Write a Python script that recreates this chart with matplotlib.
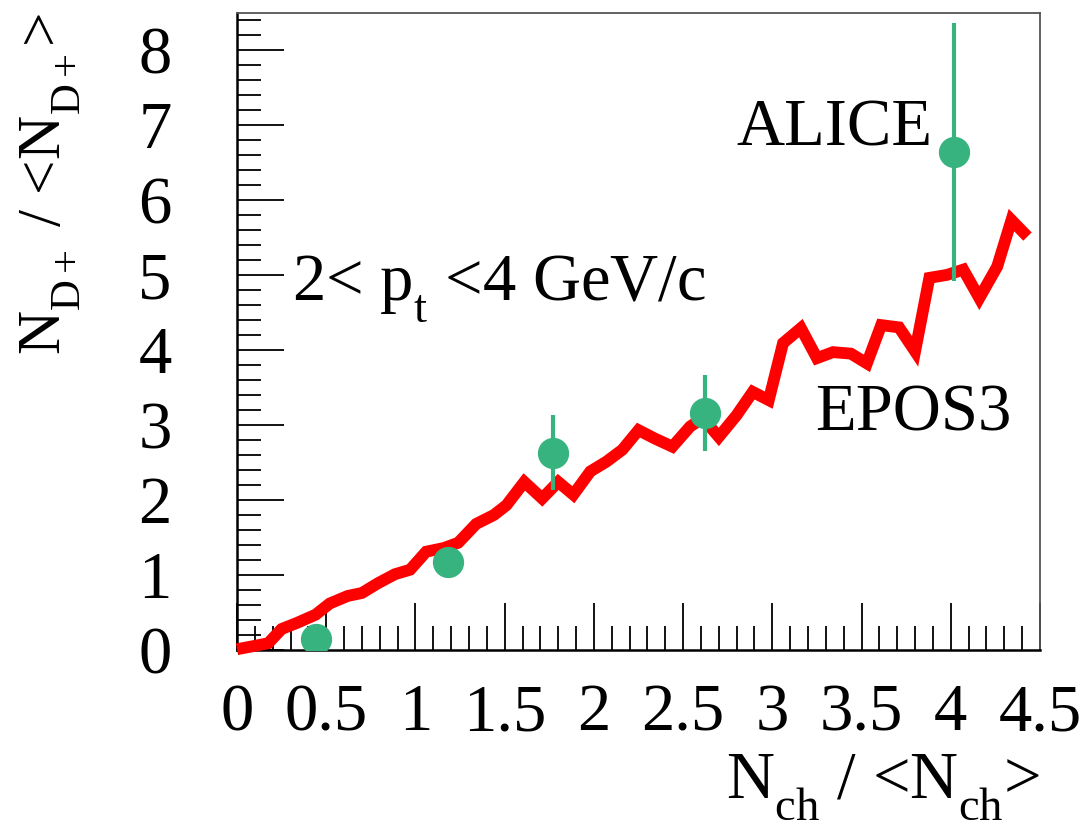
import numpy as np
import matplotlib
matplotlib.use("Agg")
import matplotlib.pyplot as plt
import matplotlib._mathtext as mathtext_impl
from matplotlib.ticker import MultipleLocator

plt.rcParams['font.family'] = ['Liberation Serif', 'DejaVu Serif']
plt.rcParams['mathtext.fontset'] = 'custom'
plt.rcParams['mathtext.rm'] = 'Liberation Serif'
plt.rcParams['mathtext.it'] = 'Liberation Serif:italic'
# drop subscripts lower, ROOT-like
mathtext_impl.FontConstantsBase.sub1 = 0.72

# EPOS3 curve
epos_x = [0.0, 0.175, 0.25, 0.335, 0.44, 0.52, 0.62, 0.70, 0.79, 0.885, 0.97,
          1.06, 1.16, 1.24, 1.34, 1.44, 1.51, 1.61, 1.71, 1.80, 1.885, 1.98,
          2.07, 2.16, 2.25, 2.34, 2.44, 2.54, 2.61, 2.70, 2.80, 2.89, 2.98,
          3.06, 3.16, 3.25, 3.34, 3.44, 3.53, 3.61, 3.71, 3.80, 3.88, 3.98,
          4.07, 4.16, 4.26, 4.34, 4.43]
epos_y = [0.01, 0.09, 0.28, 0.36, 0.47, 0.62, 0.72, 0.76, 0.89, 1.01, 1.07,
          1.31, 1.36, 1.43, 1.68, 1.80, 1.93, 2.24, 2.02, 2.24, 2.07, 2.38,
          2.51, 2.67, 2.93, 2.82, 2.71, 2.98, 3.09, 2.84, 3.13, 3.44, 3.33,
          4.09, 4.29, 3.89, 3.97, 3.95, 3.82, 4.33, 4.30, 3.98, 4.96, 5.00,
          5.07, 4.69, 5.11, 5.73, 5.51]

# ALICE points
alice_x = [0.44, 1.18, 1.77, 2.62, 4.02]
alice_y = [0.15, 1.17, 2.63, 3.16, 6.64]
alice_err = [0.1, 0.1, 0.5, 0.51, 1.72]

W, H = 1084, 821
fig = plt.figure(figsize=(W / 100, H / 100), dpi=100)
ax = fig.add_axes([237 / W, 1 - 650 / H, (1040 - 237) / W, (650 - 13) / H])

ax.plot(epos_x, epos_y, color='#ff0000', lw=8.5, solid_joinstyle='miter',
        solid_capstyle='butt', clip_on=False, zorder=3)
ax.errorbar(alice_x, alice_y, yerr=alice_err, fmt='o', color='#36b37f',
            ms=21.5, elinewidth=3, capsize=0, zorder=4)

ax.set_xlim(0, 4.5)
ax.set_ylim(0, 8.49)
ax.xaxis.set_major_locator(MultipleLocator(0.5))
ax.xaxis.set_minor_locator(MultipleLocator(0.1))
ax.yaxis.set_major_locator(MultipleLocator(1))
ax.yaxis.set_minor_locator(MultipleLocator(0.2))
ax.xaxis.set_major_formatter(plt.FuncFormatter(lambda v, p: f"{v:g}"))

ax.tick_params(which='both', direction='in', top=False, right=False,
               width=1.3, labelsize=48)
ax.tick_params(which='major', length=34)
ax.tick_params(which='minor', length=17)
ax.tick_params(axis='x', which='major', pad=24)
ax.tick_params(axis='y', which='major', pad=47)
for side in ['left', 'bottom']:
    ax.spines[side].set_linewidth(1.8)
for side in ['top', 'right']:
    ax.spines[side].set_linewidth(1.3)
    ax.spines[side].set_color('#555555')

ax.set_xlabel(r"N$_{\rm ch}$ / <N$_{\rm ch}$>", fontsize=48, loc='right')
ax.xaxis.set_label_coords(1.0, -0.161)
ax.set_ylabel(r"N$_{\rm D+}$ / <N$_{\rm D+}$>", fontsize=44, loc='top')
ax.yaxis.set_label_coords(-0.192, 1.0)

ax.text(2.80, 6.73, "ALICE", fontsize=48, va='baseline', ha='left')
ax.text(3.24, 2.93, "EPOS3", fontsize=48, va='baseline', ha='left')
ax.text(0.31, 4.67, r"2< p$_{\rm t}$ <4 GeV/c", fontsize=48,
        va='baseline', ha='left')

fig.savefig("out.png", dpi=100)
